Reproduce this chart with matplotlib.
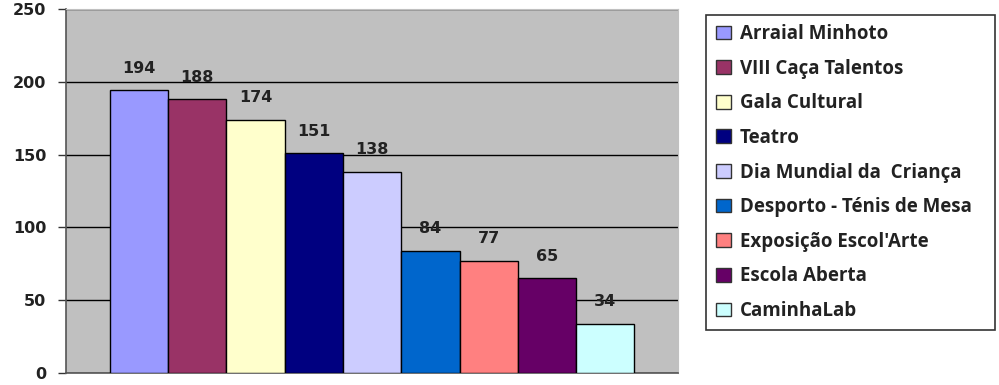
import matplotlib.pyplot as plt
from matplotlib.patches import Patch

eventos = ['Arraial Minhoto', 'VIII Caça Talentos', 'Gala Cultural', 'Teatro',
           'Dia Mundial da  Criança', 'Desporto - Ténis de Mesa',
           "Exposição Escol'Arte", 'Escola Aberta', 'CaminhaLab']
valores = [194, 188, 174, 151, 138, 84, 77, 65, 34]
cores = ['#9999FF', '#993366', '#FFFFCC', '#000080', '#CCCCFF',
         '#0066CC', '#FF8080', '#660066', '#CCFFFF']
yticks = [0, 50, 100, 150, 200, 250]

fig = plt.figure(figsize=(9.99, 3.85), dpi=100)
ax = fig.add_axes([0.066, 0.031, 0.613, 0.946])
ax.set_facecolor('#C0C0C0')

x = range(len(valores))
ax.bar(x, valores, width=1.0, color=cores, edgecolor='black', linewidth=1, zorder=3)
for i, v in zip(x, valores):
    ax.text(i, v + 10, str(v), ha='center', va='bottom', fontsize=11.5,
            fontweight='bold', color='#222222', zorder=4)

ax.set_xlim(-1.255, len(valores) - 0.5 + 0.755)
ax.set_ylim(0, 250)
ax.set_yticks(yticks)
ax.set_yticklabels([str(t) for t in yticks], fontsize=11.5, fontweight='bold', color='#222222')
ax.set_xticks([])
ax.yaxis.grid(True, color='black', linewidth=1, zorder=0)
ax.tick_params(axis='y', length=6, width=1, color='#333333', pad=8)
for s in ['top', 'right']:
    ax.spines[s].set_color('#C0C0C0')
for s in ['left', 'bottom']:
    ax.spines[s].set_color('#555555')
    ax.spines[s].set_linewidth(1.2)

handles = [Patch(facecolor=c, edgecolor='#333333', linewidth=1) for c in cores]
leg = fig.legend(handles, eventos, loc='upper left', mode='expand',
                 bbox_to_anchor=(0.707, 0.155, 0.289, 0.807), frameon=True, fancybox=False,
                 prop={'family': 'Open Sans', 'weight': 'bold', 'size': 13.5},
                 handlelength=0.8, handleheight=0.75, handletextpad=0.5,
                 labelspacing=0.78, borderpad=0.5, borderaxespad=0)
leg.get_frame().set_edgecolor('black')
leg.get_frame().set_linewidth(1.2)
for t in leg.get_texts():
    t.set_color('#222222')

fig.savefig('out.png', dpi=100)
